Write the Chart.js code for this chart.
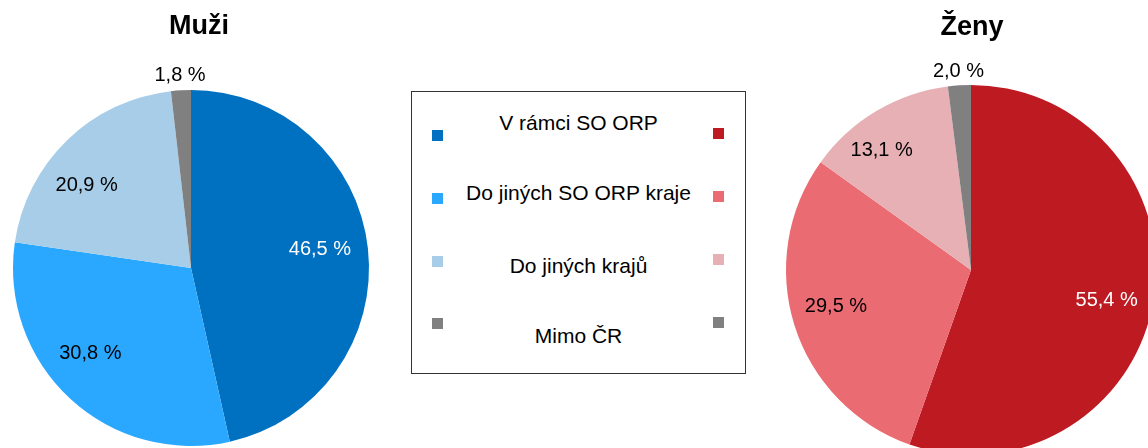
<!DOCTYPE html>
<html>
<head>
<meta charset="utf-8">
<script src="https://cdn.jsdelivr.net/npm/chart.js@4/dist/chart.umd.min.js"></script>
<style>
    html, body { margin: 0; padding: 0; background: #fff; overflow: hidden; }
    #page { position: relative; width: 1148px; height: 448px; overflow: hidden;
            font-family: "Liberation Sans", Arial, sans-serif; color: #000; }
    canvas { position: absolute; top: 0; }
    .title { position: absolute; font-weight: bold; font-size: 27px; line-height: 30px;
             text-align: center; width: 200px; }
    #legend { position: absolute; left: 411px; top: 91px; width: 333px; height: 281px;
              border: 1px solid #333; }
    .lgText { position: absolute; left: 0; width: 333px; text-align: center;
              font-size: 21px; line-height: 24px; }
    .lgBox { position: absolute; width: 11px; height: 11px; }
</style>
</head>
<body>
<div id="page">
    <canvas id="menChart" width="400" height="448" style="left:0px"></canvas>
    <canvas id="womenChart" width="452" height="470" style="left:748px"></canvas>
    <div class="title" style="left:99px; top:10px">Muži</div>
    <div class="title" style="left:872px; top:11px">Ženy</div>
    <div id="legend"></div>
</div>

<script>
// data
const categories = ["V rámci SO ORP", "Do jiných SO ORP kraje", "Do jiných krajů", "Mimo ČR"];
const menValues = [46.5, 30.8, 20.9, 1.8];
const womenValues = [55.4, 29.5, 13.1, 2.0];

const menColors = ["#0070C0", "#2AA8FF", "#A7CDE8", "#808080"];
const womenColors = ["#BE1A22", "#EA6B72", "#E6B0B4", "#808080"];

// label placement: [radius factor, angle shift in degrees]
const menLabelPlace = [[0.733, -2.5], [0.74, 7], [0.75, -7.3], [1.09, 0]];
const womenLabelPlace = [[0.75, 2.4], [0.755, 2.6], [0.81, -5.8], [1.08, 0]];

const FONT = '"Liberation Sans", Arial, sans-serif';

// draws the "46,5 %" style labels on each slice
const sliceLabels = {
    id: "sliceLabels",
    afterDatasetsDraw(chart, args, opts) {
        let ctx = chart.ctx;
        let arcs = chart.getDatasetMeta(0).data;
        let values = chart.data.datasets[0].data;
        ctx.save();
        ctx.font = "20px " + FONT;
        ctx.textAlign = "center";
        ctx.textBaseline = "middle";
        arcs.forEach((arc, i) => {
            let place = opts.place[i];
            let mid = (arc.startAngle + arc.endAngle) / 2 + place[1] * Math.PI / 180;
            let r = arc.outerRadius * place[0];
            let x = arc.x + Math.cos(mid) * r;
            let y = arc.y + Math.sin(mid) * r;
            ctx.fillStyle = i === 0 ? "#fff" : "#000";
            ctx.fillText(values[i].toFixed(1).replace(".", ",") + " %", x, y + 1);
        });
        ctx.restore();
    }
};

function makePie(id, values, colors, place, padding) {
    new Chart(document.getElementById(id), {
        type: "pie",
        data: {
            labels: categories,
            datasets: [{
                data: values,
                backgroundColor: colors,
                borderWidth: 0,
                offset: 0,
                hoverOffset: 0
            }]
        },
        options: {
            responsive: false,
            animation: false,
            events: [],
            layout: { padding: padding },
            plugins: {
                legend: { display: false },
                tooltip: { enabled: false },
                title: { display: false },
                sliceLabels: { place: place }
            }
        },
        plugins: [sliceLabels]
    });
}

makePie("menChart", menValues, menColors, menLabelPlace,
    { left: 13, top: 90, right: 31, bottom: 2 });
makePie("womenChart", womenValues, womenColors, womenLabelPlace,
    { left: 38, top: 85, right: 44, bottom: 15 });

// legend box in the middle
function buildLegend() {
    let legend = document.getElementById("legend");
    let textCenters = [31, 101, 174, 244];
    let leftTops = [38, 101, 164, 226];
    let rightTops = [36, 99, 162, 225];

    categories.forEach((c, i) => {
        legend.innerHTML += `<div class="lgText" style="top:${textCenters[i] - 12}px">${c}</div>`;
        legend.innerHTML += `<div class="lgBox" style="left:20px; top:${leftTops[i]}px; background:${menColors[i]}"></div>`;
        legend.innerHTML += `<div class="lgBox" style="left:301px; top:${rightTops[i]}px; background:${womenColors[i]}"></div>`;
    });
}
buildLegend();
</script>
</body>
</html>
